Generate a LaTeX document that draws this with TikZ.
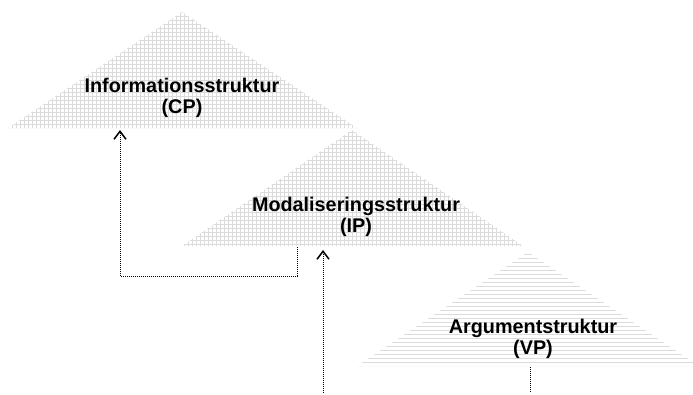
\documentclass[tikz,border=0pt]{standalone}
\usepackage{fontspec}
\setmainfont{Liberation Sans}
\usetikzlibrary{arrows.meta}
\usetikzlibrary{calc}
\usepackage{xcolor}

\definecolor{hatchgray}{gray}{0.86}

\tikzset{
  gridline/.style={hatchgray, line width=0.5pt},
  label/.style={font=\bfseries\fontsize{19.8}{21}\selectfont, align=center},
  link/.style={dash pattern=on 1pt off 1pt, line width=1pt},
  linkarrow/.style={link, -{Straight Barb[length=8pt, width=12pt, line width=1.5pt, sep=-1pt]}}
}

\begin{document}
\begin{tikzpicture}[x=1pt,y=-1pt]
      \useasboundingbox (0,0) rectangle (693,394);

      % Triangles
      \begin{scope}
        \clip (8,128) -- (182,12) -- (357,128) -- cycle;
        \draw[gridline, step=4pt] (0,0) grid (360,130);
      \end{scope}
      \begin{scope}
        \clip (182,246) -- (352,130) -- (523,246) -- cycle;
        \draw[gridline, step=4pt] (180,128) grid (526,248);
      \end{scope}
      \begin{scope}
        \clip (357,366) -- (528,252) -- (699,366) -- cycle;
        \foreach \y in {254,258,...,366}
        {
          \draw[gridline] (357,\y) -- (699,\y);
        }
      \end{scope}

      % Labels
      \node[label] (cp) at (182,98) {Informationsstruktur\\(CP)};
      \node[label] (ip) at (356,217) {Modaliseringsstruktur\\(IP)};
      \node[label] (vp) at (533,339) {Argumentstruktur\\(VP)};

      % Anchors on the bases
      \coordinate (cpbase) at (120,131);
      \coordinate (ipbase) at (297,247);
      \coordinate (iptip) at (323,251);
      \coordinate (vpbase) at (530,367);
      \coordinate (bottomL) at (323,393);
      \coordinate (bottomR) at (530,393);

      % Movement
      \draw[linkarrow] (ipbase) -- ($(ipbase)+(0,29)$) -| (cpbase);
      \draw[linkarrow] (bottomL) -- (iptip);
      \draw[link] (vpbase) -- (bottomR);

  \end{tikzpicture}
\end{document}
